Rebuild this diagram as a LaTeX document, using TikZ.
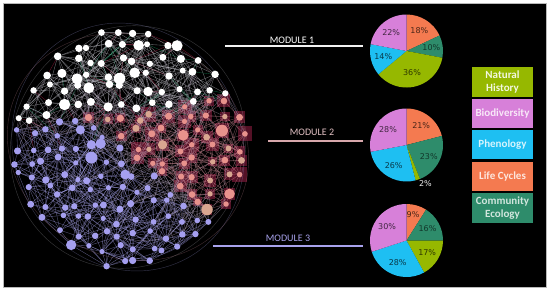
\documentclass[tikz,border=0pt]{standalone}
\usepackage{fontspec}
\setmainfont{Carlito}
\newfontfamily\piefont{DejaVu Sans}
\usetikzlibrary{calc}
\pgfdeclarelayer{back}
\pgfdeclarelayer{edges}
\pgfsetlayers{back,edges,main}
\definecolor{cNH}{HTML}{96B800}
\definecolor{cBD}{HTML}{D780D9}
\definecolor{cPH}{HTML}{1EBFF2}
\definecolor{cLC}{HTML}{F47A50}
\definecolor{cCE}{HTML}{2E8C6B}
\definecolor{m1}{HTML}{FFFFFF}
\definecolor{m2}{HTML}{E8928C}
\definecolor{m3}{HTML}{A59FEF}
\definecolor{m4}{HTML}{D9A690}
\definecolor{e1}{HTML}{D2D2DA}
\definecolor{e2}{HTML}{C88894}
\definecolor{e3}{HTML}{A8A4EC}
\definecolor{eX}{HTML}{B0A0B8}
\definecolor{dred}{HTML}{6A1630}
\definecolor{egreen}{HTML}{14A064}
\definecolor{ecrim}{HTML}{C8204C}
\definecolor{line1}{HTML}{F2F2F2}
\definecolor{line2}{HTML}{D8A8AC}
\definecolor{line3}{HTML}{A8A2EC}
\tikzset{
  net/.style={circle,inner sep=0pt,draw=none},
  edge/.style={line width=.35pt, opacity=.55},
  modlabel/.style={font=\fontsize{10}{12}\selectfont, anchor=base, inner sep=0pt},
  modline/.style={line width=1.3pt},
  legbox/.style={minimum width=61pt, minimum height=29.5pt, inner sep=0pt, align=center,
     font=\bfseries\fontsize{11}{13}\selectfont},
  pct/.style={font=\piefont\fontsize{8}{9}\selectfont, inner sep=0pt},
}
\newcommand\pslice[4]{%
  \fill[#4] (#1) -- ($(#1)+(#2:36.5)$) arc[start angle=#2, end angle=#3, radius=36.5] -- cycle;}
\begin{document}
\begin{tikzpicture}[x=1pt,y=-1pt]
\useasboundingbox (0,0) rectangle (550,292);
\begin{pgfonlayer}{back}
\fill[white] (0,0) rectangle (550,292);
\fill[black, draw=gray!55, line width=.6pt] (3,3) rectangle (546.5,287);
\end{pgfonlayer}
\pgfmathsetseed{11}
% ---------- network nodes ----------
\foreach \i in {0,...,15}{\foreach \j in {0,...,16}{%
  \pgfmathsetmacro\gx{128+15*(\i-7.5)}%
  \pgfmathsetmacro\gy{147+14.5*(\j-8)}%
  \pgfmathtruncatemacro\ins{((\gx-128)/117)^2+((\gy-147)/122)^2<1 ? 1 : 0}%
  \ifnum\ins=1
   \pgfmathsetmacro\px{\gx+5*rand}%
   \pgfmathsetmacro\py{\gy+5*rand}%
   \pgfmathtruncatemacro\md{\py<122-0.12*(\px-30) ? 1 : (\py<138+0.8*(\px-110) ? 2 : 3)}%
   \pgfmathsetmacro\rs{rnd}%
   \pgfmathsetmacro\nr{\rs<0.06 ? 4.6+1.4*rnd : (\md==1 ? 3+1.1*rnd : 2.6+1.1*rnd)}%
   \expandafter\xdef\csname m\i-\j\endcsname{\md}%
   \ifnum\md=2
     \pgfmathsetmacro\q{rnd}%
     \ifdim\q pt<.3pt \def\fc{m4}\else\def\fc{m2}\fi
   \else \def\fc{m\md}\fi
   \node[net, fill=\fc, minimum size=2*\nr pt] (n\i-\j) at (\px,\py) {};
   \ifnum\md=2
    \pgfmathsetmacro\sq{4.5+3*rnd}%
    \begin{pgfonlayer}{back}
     \fill[dred, opacity=.8] ($(n\i-\j)+(-\sq,-\sq)$) rectangle ($(n\i-\j)+(\sq,\sq)$);
    \end{pgfonlayer}
   \fi
  \fi}}
% ---------- network edges ----------
\begin{pgfonlayer}{edges}
\foreach \i in {0,...,15}{\foreach \j in {0,...,16}{%
 \ifcsname m\i-\j\endcsname
  \edef\ma{\csname m\i-\j\endcsname}%
  \foreach \di/\dj/\pr in {1/0/.95,0/1/.95,1/1/.9,-1/1/.9,2/1/.6,1/2/.6,-1/2/.6,-2/1/.6,2/0/.45,0/2/.45,3/1/.3,1/3/.3,-3/1/.3,-1/3/.3,2/2/.3,-2/2/.3}{%
   \pgfmathtruncatemacro\ii{\i+\di}%
   \pgfmathtruncatemacro\jj{\j+\dj}%
   \ifcsname m\ii-\jj\endcsname
    \pgfmathsetmacro\rr{rnd}%
    \ifdim\rr pt<\pr pt
      \edef\mb{\csname m\ii-\jj\endcsname}%
      \ifnum\ma=\mb\relax \def\ec{e\ma}\else\def\ec{eX}\fi
      \pgfmathsetmacro\rt{rnd}%
      \ifnum\ma=1
        \ifdim\rt pt<.05pt \def\ec{egreen}\fi
        \ifdim\rt pt>.95pt \def\ec{ecrim}\fi
      \fi
      \draw[edge, color=\ec] (n\i-\j) -- (n\ii-\jj);
    \fi
   \fi}%
  \foreach \k in {1,2}{%
  \pgfmathsetmacro\rl{rnd}%
  \ifdim\rl pt<.45pt
   \pgfmathtruncatemacro\ii{\i+random(0,12)-6}%
   \pgfmathtruncatemacro\jj{\j+random(0,12)-6}%
   \ifcsname m\ii-\jj\endcsname
    \edef\mb{\csname m\ii-\jj\endcsname}%
    \ifnum\ma=\mb\relax \def\ec{e\ma}\else\def\ec{eX}\fi
    \draw[edge, color=\ec, bend left=30] (n\i-\j) to (n\ii-\jj);
   \fi
  \fi}%
 \fi}}
\coordinate (nc) at (128,147);
\draw[e3, opacity=.3, line width=.45pt, rotate around={25:(nc)}] (nc) ellipse[x radius=114, y radius=126];
\draw[e1, opacity=.25, line width=.45pt, rotate around={-30:(nc)}] (nc) ellipse[x radius=116, y radius=123];
\draw[e2, opacity=.3, line width=.45pt, rotate around={60:(nc)}] (nc) ellipse[x radius=110, y radius=124];
\end{pgfonlayer}
% ---------- module lines ----------
\coordinate (m1a) at (225,46);   \coordinate (m1b) at (363,46);
\coordinate (m2a) at (268,141);  \coordinate (m2b) at (363,141);
\coordinate (m3a) at (213,246);  \coordinate (m3b) at (363,246);
\draw[modline, line1] (m1a) -- (m1b);
\draw[modline, line2] (m2a) -- (m2b);
\draw[modline, line3] (m3a) -- (m3b);
\node[modlabel, text=white] (t1) at (292,43.5) {MODULE 1};
\node[modlabel, text=line2!70!white] (t2) at (312,135.5) {MODULE 2};
\node[modlabel, text=line3] (t3) at (288,241) {MODULE 3};
% ---------- pies ----------
\coordinate (P1) at (406.5,51);
\pslice{P1}{-90}{-25.2}{cLC}
\pslice{P1}{-25.2}{10.8}{cCE}
\pslice{P1}{10.8}{140.4}{cNH}
\pslice{P1}{140.4}{190.8}{cPH}
\pslice{P1}{190.8}{270}{cBD}
\node[pct, text=cLC!30!black] (a1) at ($(P1)+(-57.6:24)$) {18\%};
\node[pct, text=cCE!40!black] (a2) at ($(P1)+(-7.2:25)$) {10\%};
\node[pct, text=cNH!30!black] (a3) at ($(P1)+(75.6:22)$) {36\%};
\node[pct, text=cPH!30!black] (a4) at ($(P1)+(165.6:24)$) {14\%};
\node[pct, text=cBD!30!black] (a5) at ($(P1)+(230.4:24)$) {22\%};
\coordinate (P2) at (406.5,145);
\pslice{P2}{-90}{-14.4}{cLC}
\pslice{P2}{-14.4}{68.4}{cCE}
\pslice{P2}{68.4}{75.6}{cNH}
\pslice{P2}{75.6}{169.2}{cPH}
\pslice{P2}{169.2}{270}{cBD}
\node[pct, text=cLC!30!black] (b1) at ($(P2)+(-52.2:24)$) {21\%};
\node[pct, text=cCE!40!black] (b2) at ($(P2)+(27:25)$) {23\%};
\node[pct, text=white!85!gray] (b3) at (425.5,184) {2\%};
\node[pct, text=cPH!30!black] (b4) at ($(P2)+(122.4:24)$) {26\%};
\node[pct, text=cBD!30!black] (b5) at ($(P2)+(219.6:24)$) {28\%};
\coordinate (P3) at (406.5,240.5);
\pslice{P3}{-90}{-57.6}{cLC}
\pslice{P3}{-57.6}{0}{cCE}
\pslice{P3}{0}{61.2}{cNH}
\pslice{P3}{61.2}{162}{cPH}
\pslice{P3}{162}{270}{cBD}
\node[pct, text=cLC!30!black] (c1) at ($(P3)+(-76:27)$) {9\%};
\node[pct, text=cCE!40!black] (c2) at ($(P3)+(-28.8:24)$) {16\%};
\node[pct, text=cNH!30!black] (c3) at ($(P3)+(30.6:24)$) {17\%};
\node[pct, text=cPH!30!black] (c4) at ($(P3)+(111.6:24)$) {28\%};
\node[pct, text=cBD!30!black] (c5) at ($(P3)+(216:24)$) {30\%};
% ---------- legend ----------
\node[legbox, fill=cNH, text=cNH!12!white] (L1) at (502.5,82) {Natural\\History};
\node[legbox, fill=cBD, text=cBD!18!white] (L2) at (502.5,113.5) {Biodiversity};
\node[legbox, fill=cPH, text=cPH!18!white] (L3) at (502.5,144.5) {Phenology};
\node[legbox, fill=cLC, text=cLC!18!white] (L4) at (502.5,176.5) {Life Cycles};
\node[legbox, fill=cCE, text=cCE!22!white] (L5) at (502.5,208) {Community\\Ecology};
\end{tikzpicture}
\end{document}
